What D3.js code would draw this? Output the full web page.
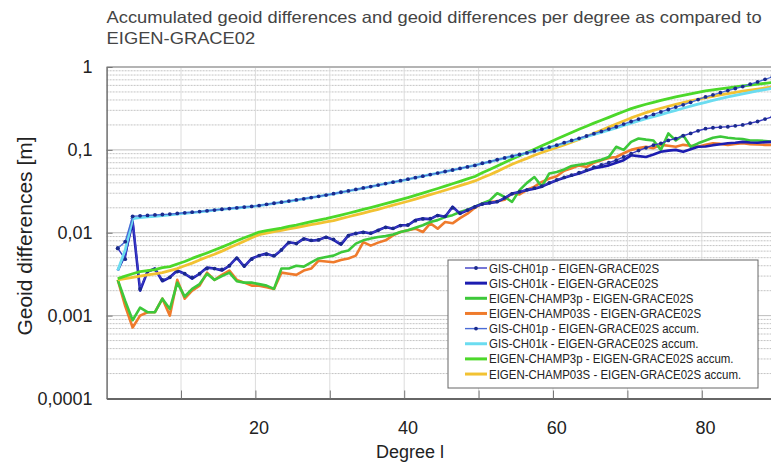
<!DOCTYPE html>
<html><head><meta charset="utf-8">
<script src="https://cdn.jsdelivr.net/npm/d3@7/dist/d3.min.js"></script>
<style>
html,body{margin:0;padding:0;background:#fff;}
svg{display:block;font-family:"Liberation Sans",Arial,sans-serif;}
</style></head>
<body><svg id="c" width="771" height="462"></svg>
<script>
// ---- DATA (degree l = 1..89) ----
const degrees = d3.range(1, 90);
const xTickValues = [10,20,30,40,50,60,70,80,90];
const xLabelValues = [20,40,60,80];
const yTickValues = [0.0001,0.001,0.01,0.1,1];
const yTickLabels = ["0,0001","0,001","0,01","0,1","1"];
const titleLines = ["Accumulated geoid differences and geoid differences per degree as compared to","EIGEN-GRACE02"];
const seriesNames = ["GIS-CH01p - EIGEN-GRACE02S","GIS-CH01k - EIGEN-GRACE02S","EIGEN-CHAMP3p - EIGEN-GRACE02S","EIGEN-CHAMP03S - EIGEN-GRACE02S","GIS-CH01p - EIGEN-GRACE02S accum.","GIS-CH01k - EIGEN-GRACE02S accum.","EIGEN-CHAMP3p - EIGEN-GRACE02S accum.","EIGEN-CHAMP03S - EIGEN-GRACE02S accum."];

const gisP = [0.0065,0.0048,0.0150,0.0021,0.0034,0.0036,0.0027,0.0029,0.0034,0.0032,
0.0029,0.0032,0.0037,0.0037,0.0036,0.0040,0.0049,0.0040,0.0048,0.0053,
0.0055,0.0053,0.0062,0.0076,0.0074,0.0084,0.0081,0.0082,0.0088,0.0083,
0.0074,0.0092,0.0098,0.0101,0.0099,0.0107,0.0116,0.0113,0.0122,0.0124,
0.0140,0.0147,0.0148,0.0161,0.0158,0.0200,0.0172,0.0188,0.0205,0.0222,
0.0230,0.0238,0.0265,0.0295,0.0312,0.0330,0.0345,0.0365,0.0400,0.0435,
0.0465,0.0495,0.0530,0.0570,0.0620,0.0660,0.0700,0.0750,0.0820,0.0900,
0.0980,0.1060,0.1140,0.1200,0.1300,0.1370,0.1480,0.1580,0.1700,0.1800,
0.1850,0.1880,0.1900,0.1950,0.2000,0.2100,0.2200,0.2350,0.2500];

const gisK = [0.0035,0.0055,0.0135,0.0020,0.0034,0.0037,0.0026,0.0029,0.0035,0.0032,
0.0028,0.0032,0.0038,0.0037,0.0035,0.0040,0.0050,0.0039,0.0049,0.0053,
0.0056,0.0052,0.0062,0.0077,0.0074,0.0085,0.0080,0.0082,0.0089,0.0082,
0.0072,0.0093,0.0098,0.0102,0.0098,0.0107,0.0117,0.0112,0.0123,0.0123,
0.0142,0.0148,0.0146,0.0163,0.0156,0.0206,0.0170,0.0186,0.0206,0.0222,
0.0228,0.0236,0.0262,0.0297,0.0310,0.0327,0.0340,0.0360,0.0395,0.0430,
0.0460,0.0490,0.0520,0.0560,0.0600,0.0620,0.0650,0.0700,0.0750,0.0860,
0.0840,0.0820,0.0880,0.0950,0.0980,0.1000,0.0950,0.1020,0.1090,0.1100,
0.1140,0.1170,0.1200,0.1220,0.1250,0.1230,0.1220,0.1240,0.1250];

const champ3p = [0.0027,0.0015,0.00088,0.00125,0.0011,0.0011,0.0016,0.0012,0.0025,0.0017,
0.0021,0.0024,0.0032,0.0027,0.0030,0.0033,0.0026,0.0025,0.0025,0.0024,
0.0023,0.0021,0.0037,0.0037,0.0040,0.0039,0.0044,0.0049,0.0051,0.0053,
0.0058,0.0061,0.0074,0.0081,0.0085,0.0089,0.0091,0.0095,0.0102,0.0107,
0.0115,0.0123,0.0135,0.0142,0.0155,0.0163,0.0178,0.0190,0.0206,0.0225,
0.0246,0.0300,0.0270,0.0236,0.0327,0.0400,0.0470,0.0360,0.0520,0.0540,
0.0580,0.0640,0.0660,0.0680,0.0720,0.0760,0.0820,0.1090,0.1000,0.1250,
0.1370,0.1330,0.1300,0.1000,0.1580,0.1300,0.1500,0.1090,0.1200,0.1300,
0.1400,0.1450,0.1400,0.1370,0.1350,0.1300,0.1300,0.1280,0.1250];

const champ03s = [0.0027,0.0013,0.00072,0.0010,0.0011,0.0011,0.0016,0.0010,0.0027,0.0016,
0.0020,0.0023,0.0033,0.0027,0.0031,0.0035,0.0027,0.0025,0.0023,0.0023,
0.0022,0.0021,0.0033,0.0032,0.0031,0.0035,0.0037,0.0046,0.0045,0.0044,
0.0047,0.0049,0.0053,0.0077,0.0070,0.0076,0.0081,0.0093,0.0102,0.0107,
0.0112,0.0102,0.0130,0.0112,0.0135,0.0130,0.0150,0.0170,0.0200,0.0226,
0.0235,0.0240,0.0250,0.0300,0.0290,0.0330,0.0360,0.0410,0.0450,0.0480,
0.0560,0.0600,0.0650,0.0620,0.0700,0.0750,0.0800,0.0820,0.0910,0.1000,
0.1050,0.1090,0.1050,0.1150,0.1120,0.1090,0.1150,0.1120,0.1090,0.1150,
0.1200,0.1180,0.1150,0.1180,0.1200,0.1170,0.1160,0.1150,0.1150];

const gisPAcc = [0.0065,0.0078,0.0158,0.0160,0.0162,0.0164,0.0166,0.0168,0.0171,0.0174,
0.0177,0.0180,0.0184,0.0188,0.0192,0.0196,0.0200,0.0204,0.0208,0.0213,
0.0220,0.0227,0.0234,0.0241,0.0249,0.0257,0.0266,0.0275,0.0285,0.0296,
0.0308,0.0320,0.0333,0.0347,0.0361,0.0376,0.0392,0.0408,0.0425,0.0443,
0.0462,0.0482,0.0503,0.0525,0.0548,0.0572,0.0597,0.0623,0.0650,0.0690,
0.0720,0.0760,0.0800,0.0840,0.0880,0.0920,0.0970,0.1020,0.1080,0.1140,
0.1220,0.1300,0.1380,0.1470,0.1570,0.1670,0.1780,0.1900,0.2050,0.2200,
0.2350,0.2500,0.2680,0.2870,0.3070,0.3280,0.3500,0.3750,0.4050,0.4350,
0.4600,0.4900,0.5200,0.5500,0.5800,0.6200,0.6600,0.7100,0.7600];

const gisKAcc = [0.0035,0.0062,0.0148,0.0152,0.0155,0.0158,0.0161,0.0164,0.0168,0.0172,
0.0175,0.0179,0.0183,0.0187,0.0191,0.0195,0.0199,0.0203,0.0207,0.0212,
0.0219,0.0226,0.0233,0.0240,0.0248,0.0256,0.0265,0.0274,0.0284,0.0295,
0.0307,0.0319,0.0332,0.0346,0.0360,0.0375,0.0391,0.0407,0.0424,0.0442,
0.0461,0.0481,0.0502,0.0524,0.0547,0.0571,0.0596,0.0622,0.0649,0.0688,
0.0718,0.0757,0.0797,0.0837,0.0877,0.0917,0.0965,0.1015,0.1072,0.1130,
0.1205,0.1280,0.1360,0.1445,0.1535,0.1630,0.1730,0.1840,0.1970,0.2100,
0.2240,0.2380,0.2520,0.2670,0.2830,0.3000,0.3180,0.3370,0.3560,0.3750,
0.3950,0.4150,0.4350,0.4550,0.4750,0.4950,0.5150,0.5350,0.5550];

const champ3pAcc = [0.0028,0.0030,0.0032,0.0034,0.0035,0.0036,0.0038,0.0039,0.0042,0.0045,
0.0049,0.0053,0.0057,0.0062,0.0067,0.0073,0.0080,0.0087,0.0094,0.0102,
0.0106,0.0110,0.0114,0.0119,0.0124,0.0130,0.0136,0.0142,0.0148,0.0155,
0.0163,0.0172,0.0181,0.0191,0.0201,0.0212,0.0224,0.0237,0.0251,0.0266,
0.0283,0.0301,0.0321,0.0342,0.0365,0.0390,0.0417,0.0446,0.0477,0.0530,
0.0580,0.0640,0.0705,0.0775,0.0850,0.0930,0.1020,0.1120,0.1230,0.1350,
0.1480,0.1620,0.1770,0.1930,0.2100,0.2280,0.2470,0.2680,0.2900,0.3150,
0.3350,0.3550,0.3750,0.3950,0.4150,0.4350,0.4550,0.4750,0.4950,0.5150,
0.5300,0.5450,0.5600,0.5750,0.5900,0.6050,0.6200,0.6350,0.6500];

const champ03sAcc = [0.0027,0.0028,0.0029,0.0030,0.0031,0.0032,0.0033,0.0035,0.0037,0.0040,
0.0043,0.0047,0.0051,0.0055,0.0060,0.0066,0.0072,0.0079,0.0087,0.0095,
0.0099,0.0103,0.0107,0.0111,0.0115,0.0120,0.0125,0.0130,0.0135,0.0140,
0.0148,0.0156,0.0164,0.0173,0.0182,0.0192,0.0203,0.0215,0.0227,0.0240,
0.0255,0.0271,0.0288,0.0306,0.0326,0.0347,0.0370,0.0395,0.0422,0.0460,
0.0500,0.0550,0.0610,0.0670,0.0730,0.0790,0.0860,0.0930,0.1000,0.1070,
0.1150,0.1240,0.1340,0.1450,0.1580,0.1720,0.1880,0.2050,0.2230,0.2430,
0.2620,0.2810,0.3000,0.3180,0.3360,0.3540,0.3720,0.3900,0.4080,0.4260,
0.4430,0.4600,0.4770,0.4940,0.5100,0.5260,0.5420,0.5580,0.5740];

const seriesValues = [gisP, gisK, champ3p, champ03s, gisPAcc, gisKAcc, champ3pAcc, champ03sAcc];

// ---- STYLES ----
const styles = [
  {color:"#3b3bc4", width:1.4, marker:true},
  {color:"#1c1cb0", width:2.6, marker:false},
  {color:"#3dc83a", width:2.6, marker:false},
  {color:"#ef7b2c", width:2.6, marker:false},
  {color:"#4a6cd6", width:1.4, marker:true},
  {color:"#6bdcf0", width:2.8, marker:false},
  {color:"#4cd82a", width:2.8, marker:false},
  {color:"#f2c232", width:2.8, marker:false}
];
const drawOrder = [3,2,1,0,7,6,5,4];

const svg = d3.select("#c");
const L = 106.6, T = 67, B = 398.5, R = 771;
const x = d3.scaleLinear().domain([-0.5, 90]).range([L, L + 90.5*7.44]);
const y = d3.scaleLog().domain([1e-4, 1]).range([B, T]);

// gridlines
const grid = svg.append("g");
const minorVals = [];
[1e-4,1e-3,1e-2,1e-1].forEach(dec => [2,3,4,5,6,7,8,9].forEach(m => minorVals.push(dec*m)));
grid.selectAll("line.mi").data(minorVals).join("line")
  .attr("x1", L).attr("x2", R).attr("y1", d=>y(d)).attr("y2", d=>y(d))
  .attr("stroke", "#c4c4c4").attr("stroke-width", 1).attr("stroke-dasharray", "2,1");
grid.selectAll("line.ma").data(yTickValues).join("line")
  .attr("x1", L).attr("x2", R).attr("y1", d=>y(d)).attr("y2", d=>y(d))
  .attr("stroke", "#bdbdbd").attr("stroke-width", 1);
grid.selectAll("line.v").data(xTickValues).join("line")
  .attr("x1", d=>x(d-0.5)).attr("x2", d=>x(d-0.5)).attr("y1", T).attr("y2", B)
  .attr("stroke", "#dcdcdc").attr("stroke-width", 1);

// frame
svg.append("line").attr("x1", L).attr("x2", R).attr("y1", T).attr("y2", T).attr("stroke", "#8a8a8a").attr("stroke-width", 1.2);

// clip
svg.append("clipPath").attr("id","clip").append("rect").attr("x", L).attr("y", T).attr("width", R-L).attr("height", B-T);
const plot = svg.append("g").attr("clip-path","url(#clip)");
const line = d3.line().x((d,i)=>x(degrees[i])).y(d=>y(d));
drawOrder.forEach(si => {
  const st = styles[si];
  plot.append("path").datum(seriesValues[si]).attr("d", line)
    .attr("fill","none").attr("stroke", st.color).attr("stroke-width", st.width)
    .attr("stroke-linejoin","round");
  if (st.marker) {
    plot.append("g").selectAll("circle").data(seriesValues[si]).join("circle")
      .attr("cx",(d,i)=>x(degrees[i])).attr("cy", d=>y(d)).attr("r", 1.9).attr("fill", "#1a2a8c");
  }
});

// axes
const yAxis = d3.axisLeft(y).tickValues(yTickValues).tickFormat((d,i)=>yTickLabels[i]).tickSizeInner(-6).tickSizeOuter(0).tickPadding(14);
const gy = svg.append("g").attr("transform",`translate(${L},0)`).call(yAxis);
gy.select(".domain").attr("stroke","#777").attr("stroke-width",1.6);
gy.selectAll(".tick line").attr("stroke","#777");
gy.selectAll(".tick text").attr("font-size",18).attr("fill","#222").attr("font-family","Liberation Sans, Arial, sans-serif");

const xAxis = d3.axisBottom(x).tickValues(xTickValues.map(d=>d-0.5)).tickFormat("").tickSizeInner(-8).tickSizeOuter(0);
const gx = svg.append("g").attr("transform",`translate(0,${B})`).call(xAxis);
gx.select(".domain").attr("stroke","#666").attr("stroke-width",2.2);
gx.selectAll(".tick line").attr("stroke","#777");
svg.append("g").selectAll("text").data(xLabelValues).join("text")
  .attr("x", d=>x(d)).attr("y", 434).attr("text-anchor","middle")
  .attr("font-size",18).attr("fill","#222").text(d=>d);

// axis titles
svg.append("g").append("text").attr("x",410).attr("y",458).attr("text-anchor","middle").attr("font-size",18).attr("fill","#222").text("Degree l");
svg.append("g").append("text").attr("transform","translate(32,236) rotate(-90)").attr("text-anchor","middle").attr("font-size",21).attr("fill","#222").text("Geoid differences [m]");

// title
const tg = svg.append("g");
tg.selectAll("text").data(titleLines).join("text")
  .attr("x", L).attr("y", (d,i)=>23 + i*21)
  .attr("font-size", 16.5).attr("font-weight","normal").attr("fill", "#444").text(d=>d);
const tNodes = tg.selectAll("text").nodes();
const tScale = 655 / tNodes[0].getComputedTextLength();
tNodes.forEach(n => { d3.select(n).attr("textLength", n.getComputedTextLength()*tScale).attr("lengthAdjust","spacingAndGlyphs"); });

// legend
const lg = svg.append("g");
lg.append("rect").attr("x",448).attr("y",260).attr("width",310).attr("height",128).attr("fill","#fff").attr("stroke","#666").attr("stroke-width",1);
const rows = lg.selectAll("g.r").data(seriesNames).join("g").attr("transform",(d,i)=>`translate(0,${268 + i*15.15})`);
rows.append("line").attr("x1",465).attr("x2",487).attr("y1",0).attr("y2",0)
  .attr("stroke",(d,i)=>styles[i].color).attr("stroke-width",(d,i)=>styles[i].marker?1.4:3);
rows.filter((d,i)=>styles[i].marker).append("circle").attr("cx",476).attr("cy",0).attr("r",1.9).attr("fill","#1a2a8c");
rows.append("text").attr("x",489).attr("y",4.5).attr("font-size",12).attr("fill","#222").text(d=>d)
  .each(function(){ const w = this.getComputedTextLength(); d3.select(this).attr("textLength", w*0.955).attr("lengthAdjust","spacingAndGlyphs"); });
</script></body></html>
